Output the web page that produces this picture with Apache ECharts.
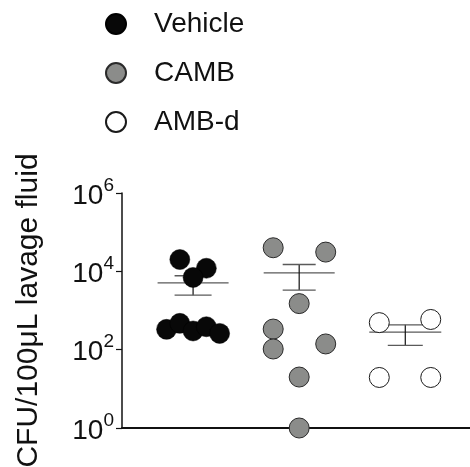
<!DOCTYPE html>
<html><head><meta charset="utf-8">
<script src="https://cdn.jsdelivr.net/npm/echarts@6/dist/echarts.min.js"></script>
<style>html,body{margin:0;padding:0;background:#fff}#c{width:470px;height:467px}</style>
</head><body><div id="c"></div>
<script>
// ---- data ----
const groups = ['Vehicle', 'CAMB', 'AMB-d'];
const vehicleY = [20000, 12000, 7000, 330, 470, 300, 385, 260];
const vehicleDx = [-0.125, 0.125, 0, -0.25, -0.125, 0, 0.125, 0.25];
const cambY = [40000, 31000, 1500, 336, 104, 140, 20, 1];
const cambDx = [-0.245, 0.25, 0, -0.245, -0.245, 0.25, 0, 0];
const ambdY = [490, 590, 19.5, 19.5];
const ambdDx = [-0.245, 0.24, -0.245, 0.24];
const yTickExponents = [0, 2, 4, 6];
const yAxisTitle = 'CFU/100\u03bcL lavage fluid';

const groupY = [vehicleY, cambY, ambdY];
const groupDx = [vehicleDx, cambDx, ambdDx];

function meanSem(arr) {
  const n = arr.length;
  const m = arr.reduce((a, b) => a + b, 0) / n;
  const sd = Math.sqrt(arr.reduce((a, b) => a + (b - m) * (b - m), 0) / (n - 1));
  return [m, sd / Math.sqrt(n)];
}
const stats = groupY.map((ys, i) => {
  const [m, s] = meanSem(ys);
  return [i + 1, m, m + s, m - s];
});

const FONT = 'Liberation Sans';
const styles = [
  { color: '#080808', borderColor: '#000', borderWidth: 0.5, opacity: 1 },
  { color: '#8b8c8a', borderColor: '#2a2a2a', borderWidth: 1, opacity: 1 },
  { color: '#ffffff', borderColor: '#1a1a1a', borderWidth: 1, opacity: 1 }
];

const scatterSeries = groups.map((g, i) => ({
  name: g,
  type: 'scatter',
  symbol: 'circle',
  symbolSize: 20,
  z: 5,
  itemStyle: styles[i],
  emphasis: { disabled: true },
  data: groupY[i].map((v, k) => [i + 1 + groupDx[i][k], v])
}));

const capHalf = [18.5, 16.5, 17.5];
const meanHalf = [35.5, 35.5, 36];

const chart = echarts.init(document.getElementById('c'), null, { renderer: 'canvas' });
chart.setOption({
  animation: false,
  backgroundColor: '#fff',
  legend: {
    orient: 'vertical', left: 100, top: 5,
    itemWidth: 20, itemHeight: 20, itemGap: 21,
    icon: 'circle', selectedMode: false,
    data: groups,
    textStyle: { fontSize: 28, fontFamily: FONT, color: '#111', padding: [0, 0, 0, 23] }
  },
  grid: { left: 122, right: 0, top: 193, bottom: 39, containLabel: false, outerBoundsMode: 'none' },
  xAxis: {
    type: 'value', min: 0.33, max: 3.61,
    axisLine: { show: true, lineStyle: { color: '#111', width: 2 } },
    axisTick: { show: false }, axisLabel: { show: false }, splitLine: { show: false }
  },
  yAxis: {
    type: 'log', logBase: 10, min: 1, max: 1e6, interval: 2,
    name: yAxisTitle, nameLocation: 'middle', nameGap: 78,
    nameTextStyle: { fontSize: 30, fontFamily: FONT, color: '#111' },
    axisLine: { show: true, lineStyle: { color: '#111', width: 1.5 } },
    axisTick: { show: true, length: 6, lineStyle: { color: '#111', width: 1.2 } },
    splitLine: { show: false },
    axisLabel: {
      margin: 8,
      formatter: function (v) {
        const e = Math.round(Math.log10(v));
        if (yTickExponents.indexOf(e) < 0) return '';
        return '{b|10}{s|' + e + '}';
      },
      rich: {
        b: { fontSize: 28, fontFamily: FONT, color: '#111', lineHeight: 34, verticalAlign: 'bottom' },
        s: { fontSize: 19, fontFamily: FONT, color: '#111', lineHeight: 17, verticalAlign: 'top' }
      }
    }
  },
  series: [
    {
      type: 'custom', name: 'meanSEM', z: 2,
      encode: { x: 0, y: [1, 2, 3] },
      renderItem: function (params, api) {
        const i = params.dataIndex;
        const x = api.value(0);
        const pm = api.coord([x, api.value(1)]);
        const pu = api.coord([x, api.value(2)]);
        const pl = api.coord([x, api.value(3)]);
        const hc = capHalf[i], hm = meanHalf[i];
        const hs = { stroke: '#5a5a5a', lineWidth: 1.3 };
        return {
          type: 'group', children: [
            { type: 'line', shape: { x1: pm[0] - hm, y1: pm[1], x2: pm[0] + hm, y2: pm[1] }, style: hs },
            { type: 'line', shape: { x1: pu[0], y1: pu[1], x2: pl[0], y2: pl[1] }, style: { stroke: '#111', lineWidth: 1.2 } },
            { type: 'line', shape: { x1: pu[0] - hc, y1: pu[1], x2: pu[0] + hc, y2: pu[1] }, style: hs },
            { type: 'line', shape: { x1: pl[0] - hc, y1: pl[1], x2: pl[0] + hc, y2: pl[1] }, style: hs }
          ]
        };
      },
      data: stats
    }
  ].concat(scatterSeries)
});
</script>
</body></html>
